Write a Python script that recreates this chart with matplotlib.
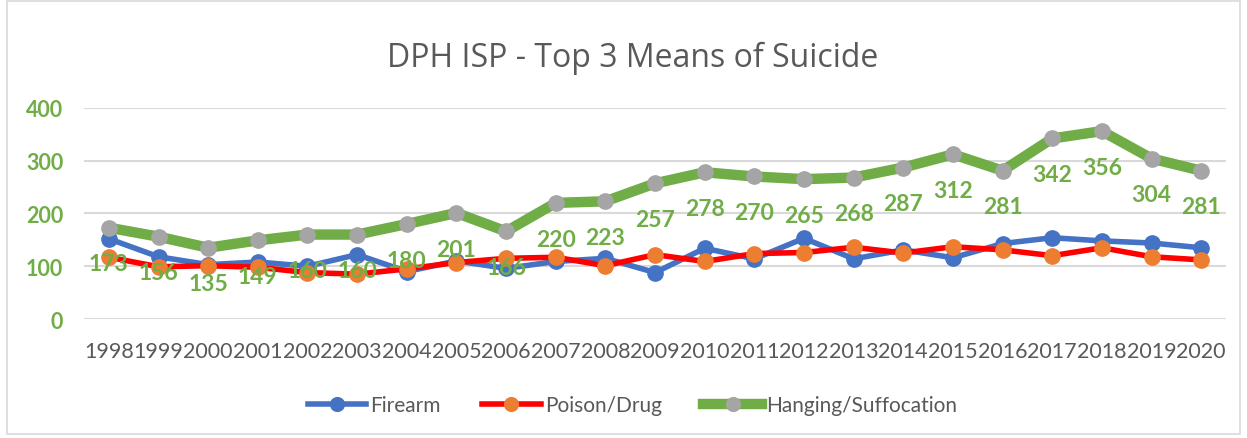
import matplotlib
matplotlib.use("Agg")
import matplotlib.pyplot as plt
from matplotlib.patches import Rectangle

years = [str(y) for y in range(1998, 2021)]
firearm = [152, 118, 103, 108, 100, 122, 90, 110, 96, 109, 115, 88, 134, 114, 153,
           114, 131, 116, 143, 154, 148, 144, 135]
poison = [117, 99, 101, 98, 88, 85, 95, 107, 115, 117, 101, 122, 109, 124, 126,
          136, 125, 137, 131, 120, 135, 118, 112]
hanging = [173, 156, 135, 149, 160, 160, 180, 201, 166, 220, 223, 257, 278, 270, 265,
           268, 287, 312, 281, 342, 356, 304, 281]
yticks = [0, 100, 200, 300, 400]

plt.rcParams['font.family'] = ['Lato', 'DejaVu Sans']

fig = plt.figure(figsize=(12.47, 4.39), dpi=100)
ax = fig.add_axes([0.0674, 0.271, 0.9158, 0.481])

x = list(range(len(years)))
ax.plot(x, firearm, color='#4472C4', lw=4, marker='o', ms=11,
        mfc='#4472C4', mec='#4472C4', label='Firearm', zorder=3)
ax.plot(x, poison, color='#FF0000', lw=4, marker='o', ms=11,
        mfc='#ED7D31', mec='#ED7D31', label='Poison/Drug', zorder=4)
ax.plot(x, hanging, color='#70AD47', lw=7.5, marker='o', ms=11,
        mfc='#A5A5A5', mec='#A5A5A5', label='Hanging/Suffocation', zorder=5)

for xi, v in zip(x, hanging):
    ax.annotate(str(v), (xi, v), xytext=(0, -26), textcoords='offset points',
                ha='center', va='center', color='#70AD47', fontsize=16.5,
                fontweight='bold', zorder=6)

ax.set_xlim(-0.5, len(years) - 0.5)
ax.set_ylim(0, 400)
ax.set_yticks(yticks)
ax.set_yticklabels([str(t) for t in yticks], color='#70AD47', fontsize=15.5,
                   fontweight='bold')
ax.set_xticks(x)
ax.set_xticklabels(years, color='#595959', fontsize=15.5)
ax.tick_params(axis='y', length=0, pad=15)
ax.tick_params(axis='x', length=0, pad=16)
ax.grid(axis='y', color='#D9D9D9', lw=1.5)
ax.set_axisbelow(True)
for s in ax.spines.values():
    s.set_visible(False)

fig.text(0.507, 0.868, 'DPH ISP - Top 3 Means of Suicide', ha='center', va='center',
         fontsize=23, color='#595959', family=['Open Sans', 'DejaVu Sans'])

leg = fig.legend(loc='center', bbox_to_anchor=(0.507, 0.075), ncol=3, frameon=False,
                 fontsize=15, handlelength=2.8, columnspacing=2.0, handletextpad=0.2,
                 markerscale=0.9)
for t in leg.get_texts():
    t.set_color('#595959')

fig.patches.append(Rectangle((0.006, 0.01), 0.988, 0.985, transform=fig.transFigure,
                             fill=False, edgecolor='#D9D9D9', lw=1.2))

fig.savefig('out.png', dpi=100)
